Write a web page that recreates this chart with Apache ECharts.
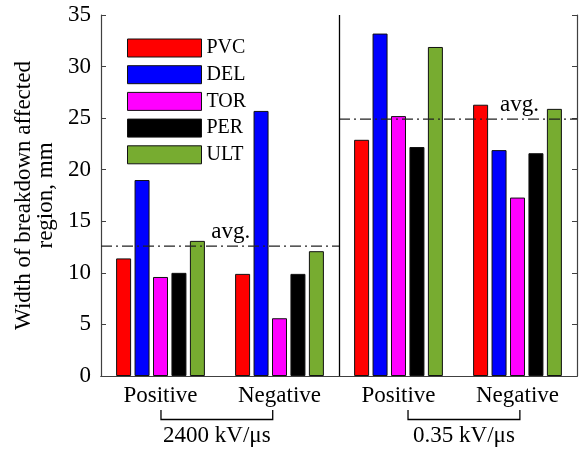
<!DOCTYPE html>
<html>
<head>
<meta charset="utf-8">
<script src="https://cdn.jsdelivr.net/npm/echarts@6/dist/echarts.min.js"></script>
<style>html,body{margin:0;padding:0;background:#fff;}#c{width:579px;height:450px;}</style>
</head>
<body>
<div id="c"></div>
<script>
const categories = ['Positive', 'Negative', 'Positive', 'Negative'];
const seriesNames = ['PVC', 'DEL', 'TOR', 'PER', 'ULT'];
const PVC = [11.4, 9.9, 22.9, 26.3];
const DEL = [19.0, 25.7, 33.2, 21.9];
const TOR = [9.6, 5.6, 25.2, 17.3];
const PER = [10.0, 9.9, 22.2, 21.6];
const ULT = [13.1, 12.1, 31.9, 25.9];
const avgValues = [12.6, 24.9];
const groupLabels = ['2400 kV/\u03bcs', '0.35 kV/\u03bcs'];
const yMin = 0, yMax = 35, yStep = 5;
const yTitle = 'Width of breakdown affected\nregion, mm';

const colors = ['#FF0000', '#0000FF', '#FF00FF', '#000000', '#77AC30'];
const values = [PVC, DEL, TOR, PER, ULT];
const FONT = 'Liberation Serif';
const frame = '#404040';

const chart = echarts.init(document.getElementById('c'), null, {renderer: 'canvas'});

const barSeries = seriesNames.map((n, i) => ({
  name: n, type: 'bar', xAxisIndex: 0, yAxisIndex: 0,
  data: values[i], barWidth: 15, barGap: '23%',
  itemStyle: {color: colors[i], borderColor: '#111', borderWidth: 1},
  z: 2
}));

const dashDot = {color: '#222', width: 1.3, type: [11, 4, 2, 4]};
const avgSeries = [
  {type: 'line', xAxisIndex: 2, yAxisIndex: 0, data: [[0, avgValues[0]], [2, avgValues[0]]],
   symbol: 'none', lineStyle: dashDot, silent: true, z: 3,
   markLine: {symbol: 'none', silent: true, label: {show: false},
     lineStyle: {color: '#000', width: 1.3, type: 'solid'}, data: [{xAxis: 2}]}},
  {type: 'line', xAxisIndex: 2, yAxisIndex: 0, data: [[2, avgValues[1]], [4, avgValues[1]]],
   symbol: 'none', lineStyle: dashDot, silent: true, z: 3}
];

chart.setOption({
  animation: false,
  backgroundColor: '#fff',
  textStyle: {fontFamily: FONT},
  grid: {left: 101, right: 2, top: 15, bottom: 74, containLabel: false},
  legend: {
    data: seriesNames, orient: 'vertical', left: 127, top: 38, padding: 0,
    itemWidth: 74, itemHeight: 18, itemGap: 6.7, icon: 'rect',
    itemStyle: {borderColor: '#111', borderWidth: 1},
    textStyle: {fontFamily: FONT, fontSize: 20, color: '#000', lineHeight: 18}
  },
  xAxis: [
    {type: 'category', data: categories, position: 'bottom',
     axisLine: {lineStyle: {color: frame, width: 1.2}},
     axisTick: {inside: true, alignWithLabel: true, length: 5, lineStyle: {color: frame}},
     axisLabel: {fontFamily: FONT, fontSize: 23, color: '#000', margin: 8}},
    {type: 'category', data: categories, position: 'top',
     axisLine: {lineStyle: {color: frame, width: 1.2}},
     axisTick: {inside: true, alignWithLabel: true, length: 5, lineStyle: {color: frame}},
     axisLabel: {show: false}},
    {type: 'value', min: 0, max: 4, show: false}
  ],
  yAxis: [
    {type: 'value', min: yMin, max: yMax, interval: yStep, position: 'left',
     name: yTitle, nameLocation: 'middle', nameGap: 40, nameRotate: 90,
     nameTextStyle: {fontFamily: FONT, fontSize: 23, color: '#000', lineHeight: 22},
     axisLine: {show: true, lineStyle: {color: frame, width: 1.2}},
     axisTick: {show: true, inside: true, length: 5, lineStyle: {color: frame}},
     axisLabel: {fontFamily: FONT, fontSize: 23, color: '#000', margin: 10},
     splitLine: {show: false}},
    {type: 'value', min: yMin, max: yMax, interval: yStep, position: 'right',
     axisLine: {show: true, lineStyle: {color: frame, width: 1.2}},
     axisTick: {show: true, inside: true, length: 5, lineStyle: {color: frame}},
     axisLabel: {show: false}, splitLine: {show: false}}
  ],
  series: barSeries.concat(avgSeries)
});

// annotations placed via the chart's own scales
const P = (x, y) => chart.convertToPixel({xAxisIndex: 2, yAxisIndex: 0}, [x, y]);
const avgLabelX = [1.09, 3.517];
const bracketX = [[0.504, 1.443], [2.58, 3.52]];
const graphics = [];
avgValues.forEach((v, i) => {
  const p = P(avgLabelX[i], v);
  graphics.push({type: 'text', x: p[0], y: p[1] - 3,
    style: {text: 'avg.', font: '23px "' + FONT + '"', fill: '#000', textAlign: 'center', textVerticalAlign: 'bottom'}, z: 10});
});
const base = P(0, 0)[1];
bracketX.forEach((b, i) => {
  const x1 = P(b[0], 0)[0], x2 = P(b[1], 0)[0];
  graphics.push({type: 'polyline', shape: {points: [[x1, base + 34], [x1, base + 43.5], [x2, base + 43.5], [x2, base + 34]]},
    style: {stroke: '#000', lineWidth: 1.3, fill: null}, z: 10});
  graphics.push({type: 'text', x: (x1 + x2) / 2, y: base + 59.5,
    style: {text: groupLabels[i], font: '23px "' + FONT + '"', fill: '#000', textAlign: 'center', textVerticalAlign: 'middle'}, z: 10});
});
chart.setOption({graphic: graphics});
</script>
</body>
</html>
